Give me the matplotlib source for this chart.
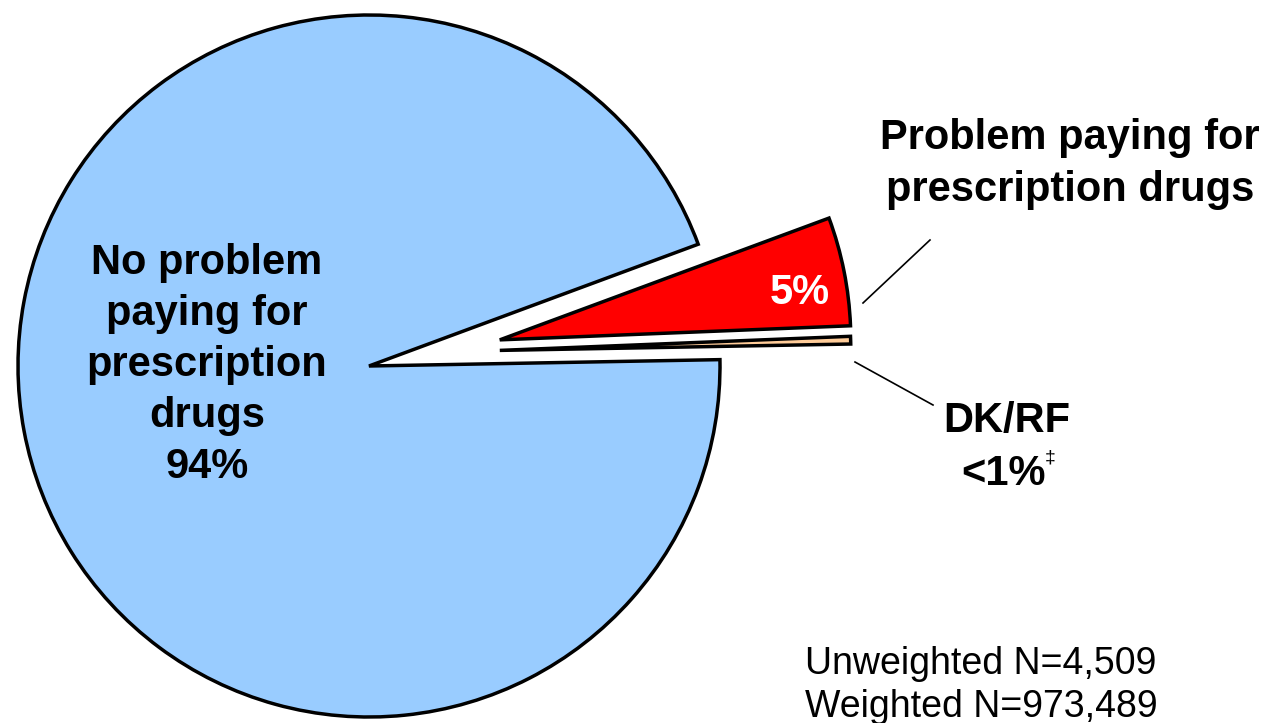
import numpy as np
import matplotlib.pyplot as plt

plt.rcParams['font.family'] = ['Liberation Sans', 'DejaVu Sans']

# --- data
labels = ['Problem paying for\nprescription drugs', 'DK/RF', 'No problem\npaying for\nprescription\ndrugs']
values = [5.0, 0.35, 94.65]
pct_text = ['5%', '<1%', '94%']
colors = ['#FF0000', '#FFCC99', '#99CCFF']
explode = [0.38, 0.38, 0.0]
notes = ['Unweighted N=4,509', 'Weighted N=973,489']

W, H = 1270, 723
R = 351.0
cx, cy = 369.0, 357.0   # pie centre, pixels from bottom-left

fig = plt.figure(figsize=(W / 100, H / 100), dpi=100)
ax = fig.add_axes([0, 0, 1, 1])
ax.axis('off')

wedges, _ = ax.pie(values, colors=colors, explode=explode, startangle=20.3,
                   counterclock=False, radius=1.0,
                   wedgeprops=dict(edgecolor='black', linewidth=2.5))
# DK/RF wedge sits just under the red one (pulled out in the same direction)
c0 = wedges[0].center
wedges[1].set_center((c0[0], c0[1] - 0.03))

ax.set_aspect('equal', adjustable='datalim')
ax.set_xlim(-cx / R, (W - cx) / R)
ax.set_ylim(-cy / R, (H - cy) / R)

def px(x, y):
    # pixel (from top-left) -> data
    return ((x - cx) / R, ((H - y) - cy) / R)

bold = dict(fontsize=30, fontweight='bold', ha='center', va='center')

ax.text(*px(207, 365), labels[2] + '\n' + pct_text[2], linespacing=1.36, **bold)
ax.text(*px(800, 293), pct_text[0], color='white', **bold)
ax.text(*px(1070, 164), labels[0], linespacing=1.36, **bold)
ax.text(*px(1007, 421), labels[1], **bold)
ax.text(*px(1003, 474), pct_text[1], **bold)
ax.text(*px(1050, 458), '\u2021', fontsize=14, ha='center', va='center')

# leader lines
for (x1, y1), (x2, y2) in [((863, 303), (930, 240)), ((855, 362), (933, 405))]:
    a, b = px(x1, y1), px(x2, y2)
    ax.plot([a[0], b[0]], [a[1], b[1]], color='black', linewidth=1.2)

ax.text(*px(805, 664), notes[0], fontsize=27, ha='left', va='center')
ax.text(*px(805, 707), notes[1], fontsize=27, ha='left', va='center')

fig.savefig('out.png', dpi=100)
